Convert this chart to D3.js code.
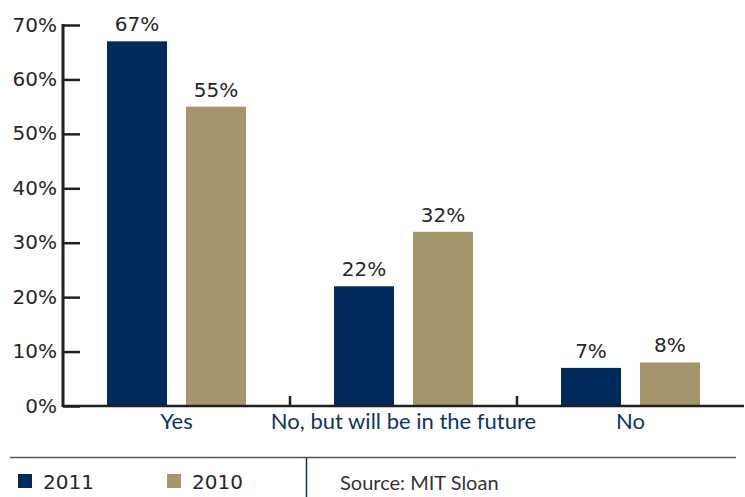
<!DOCTYPE html>
<html><head><meta charset="utf-8">
<script src="https://cdn.jsdelivr.net/npm/d3@7"></script>
<style>body{margin:0;background:#fff}svg{display:block}text{font-family:Lato,"Open Sans",sans-serif}.num{font-family:"DejaVu Sans",sans-serif}</style>
</head><body>
<svg id="c" width="745" height="497"></svg>
<script>
const categories = ["Yes", "No, but will be in the future", "No"];
const seriesNames = ["2011", "2010"];
const values2011 = [67, 22, 7];
const values2010 = [55, 32, 8];
const yTicks = [0, 10, 20, 30, 40, 50, 60, 70];
const sourceText = "Source: MIT Sloan";

const colors = {"2011": "#002a5c", "2010": "#a5976c"};
const svg = d3.select("#c");
const y = d3.scaleLinear().domain([0, 70]).range([406, 25]);
const x = d3.scaleBand().domain(categories).range([63, 744]).padding(0);
const xs = d3.scaleBand().domain(seriesNames).range([44, 183]).paddingInner(0.24);
const data = categories.map((c, i) => ({cat: c, vals: [{s: "2011", v: values2011[i]}, {s: "2010", v: values2010[i]}]}));

// bars
const g = svg.selectAll("g.cat").data(data).join("g").attr("transform", d => `translate(${x(d.cat)},0)`);
g.selectAll("rect").data(d => d.vals).join("rect")
  .attr("x", d => xs(d.s)).attr("width", xs.bandwidth())
  .attr("y", d => y(d.v)).attr("height", d => y(0) - y(d.v))
  .attr("fill", d => colors[d.s]);
g.selectAll("text.val").data(d => d.vals).join("text").attr("class", "val num")
  .attr("x", d => xs(d.s) + xs.bandwidth() / 2).attr("y", d => y(d.v) - 10)
  .attr("text-anchor", "middle").attr("font-size", 20).attr("fill", "#2a2627")
  .text(d => d.v + "%");

// y axis
const yAxis = d3.axisRight(y).tickValues(yTicks).tickSize(17).tickFormat("");
const ya = svg.append("g").attr("transform", "translate(63,0)").call(yAxis);
ya.select(".domain").remove();
ya.selectAll("line").attr("stroke", "#231f20").attr("stroke-width", 2.5);
svg.append("line").attr("x1", 63).attr("x2", 63).attr("y1", y(70) - 1).attr("y2", y(0) + 1)
  .attr("stroke", "#231f20").attr("stroke-width", 3);
svg.selectAll("text.yt").data(yTicks).join("text").attr("class", "yt num")
  .attr("x", 57).attr("y", d => y(d) + 6.5).attr("text-anchor", "end")
  .attr("font-size", 20).attr("fill", "#2a2627").text(d => d + "%");

// x axis
svg.append("line").attr("x1", 63).attr("x2", 744).attr("y1", y(0)).attr("y2", y(0))
  .attr("stroke", "#231f20").attr("stroke-width", 2.5);
svg.selectAll("line.sep").data(categories.slice(1)).join("line").attr("class", "sep")
  .attr("x1", d => x(d)).attr("x2", d => x(d)).attr("y1", y(0)).attr("y2", y(0) - 10)
  .attr("stroke", "#231f20").attr("stroke-width", 2.5);
svg.selectAll("text.cat").data(categories).join("text").attr("class", "cat")
  .attr("x", d => x(d) + x.bandwidth() / 2).attr("y", 429).attr("text-anchor", "middle")
  .attr("font-size", 22).attr("fill", "#0e3566").text(d => d);

// legend footer
svg.append("line").attr("x1", 10).attr("x2", 736).attr("y1", 457.5).attr("y2", 457.5)
  .attr("stroke", "#555").attr("stroke-width", 1.5);
svg.append("line").attr("x1", 306.5).attr("x2", 306.5).attr("y1", 458).attr("y2", 497)
  .attr("stroke", "#0e3566").attr("stroke-width", 1.5);
const lx = d3.scaleOrdinal().domain(seriesNames).range([18, 167]);
const lg = svg.selectAll("g.leg").data(seriesNames).join("g").attr("class", "leg")
  .attr("transform", d => `translate(${lx(d)},474)`);
lg.append("rect").attr("width", 14).attr("height", 14).attr("fill", d => colors[d]);
lg.append("text").attr("class", "num").attr("x", 25).attr("y", 15).attr("font-size", 20).attr("fill", "#2a2627").text(d => d);
svg.append("text").attr("x", 340).attr("y", 490).attr("font-size", 20).attr("fill", "#333").text(sourceText);
</script>
</body></html>
